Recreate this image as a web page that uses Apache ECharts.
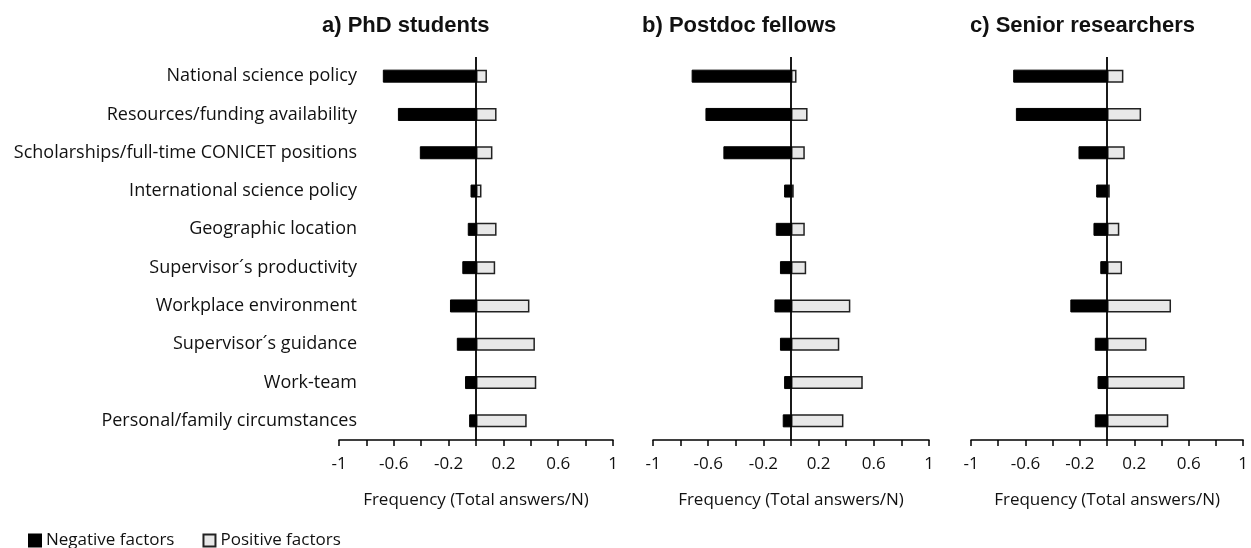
<!DOCTYPE html>
<html>
<head>
<meta charset="utf-8">
<script src="https://cdn.jsdelivr.net/npm/echarts@6/dist/echarts.min.js"></script>
<style>html,body{margin:0;padding:0;background:#fff}#c{width:1251px;height:548px}</style>
</head>
<body>
<div id="c"></div>
<script>
const categories = ['National science policy','Resources/funding availability','Scholarships/full-time CONICET positions','International science policy','Geographic location','Supervisor´s productivity','Workplace environment','Supervisor´s guidance','Work-team','Personal/family circumstances'];
const panelTitles = ['a) PhD students','b) Postdoc fellows','c) Senior researchers'];
const tickLabels = ['-1','-0.6','-0.2','0.2','0.6','1'];
const axisTitle = 'Frequency (Total answers/N)';
const negPhD = [-0.68, -0.57, -0.41, -0.04, -0.06, -0.10, -0.19, -0.14, -0.08, -0.05];
const posPhD = [0.08, 0.15, 0.12, 0.04, 0.15, 0.14, 0.39, 0.43, 0.44, 0.37];
const negPostdoc = [-0.72, -0.62, -0.49, -0.05, -0.11, -0.08, -0.12, -0.08, -0.05, -0.06];
const posPostdoc = [0.04, 0.12, 0.10, 0.02, 0.10, 0.11, 0.43, 0.35, 0.52, 0.38];
const negSenior = [-0.69, -0.67, -0.21, -0.08, -0.10, -0.05, -0.27, -0.09, -0.07, -0.09];
const posSenior = [0.12, 0.25, 0.13, 0.02, 0.09, 0.11, 0.47, 0.29, 0.57, 0.45];

const negAll = [negPhD, negPostdoc, negSenior];
const posAll = [posPhD, posPostdoc, posSenior];

const grids = [
  {left: 339, width: 274, top: 57, height: 383},
  {left: 653, width: 276, top: 57, height: 383},
  {left: 971, width: 275, top: 57, height: 383}
];
const titleLefts = [322, 642, 970];
const txt = '#111';
const labelFont = '"Open Sans", sans-serif';

const option = {
  animation: false,
  backgroundColor: '#fff',
  title: panelTitles.map((t, i) => ({
    text: t, left: titleLefts[i], top: 15, padding: 0,
    textStyle: {fontFamily: '"Liberation Sans", Arial, sans-serif', fontWeight: 'bold', fontSize: 22, color: txt}
  })),
  legend: {
    data: ['Negative factors', 'Positive factors'],
    left: 28, top: 532, icon: 'rect', itemWidth: 12, itemHeight: 12, itemGap: 28, padding: 0,
    textStyle: {fontFamily: labelFont, fontSize: 17, color: txt}
  },
  grid: grids,
  xAxis: grids.map((g, i) => ({
    type: 'value', gridIndex: i, min: -1, max: 1, interval: 0.2,
    axisLine: {show: true, onZero: false, lineStyle: {color: '#000', width: 1.5}},
    axisTick: {show: true, length: 6, lineStyle: {color: '#000', width: 1.5}},
    splitLine: {show: false},
    axisLabel: {
      margin: 16, color: txt, fontFamily: labelFont, fontSize: 17,
      formatter: v => { const s = String(Math.round(v * 10) / 10); return tickLabels.indexOf(s) >= 0 ? s : ''; }
    },
    name: axisTitle, nameLocation: 'middle', nameGap: 52,
    nameTextStyle: {fontFamily: labelFont, fontSize: 17, color: txt}
  })),
  yAxis: grids.map((g, i) => ({
    type: 'category', gridIndex: i, data: categories, inverse: true,
    axisLine: {show: false}, axisTick: {show: false},
    axisLabel: {show: i === 0, margin: -18, color: txt, fontFamily: labelFont, fontSize: 18}
  })),
  series: []
};

for (let i = 0; i < 3; i++) {
  option.series.push({
    name: 'Negative factors', type: 'bar', xAxisIndex: i, yAxisIndex: i,
    data: negAll[i], barWidth: 13, barGap: '-100%',
    itemStyle: {color: '#000', borderColor: '#000', borderWidth: 1}
  });
  option.series.push({
    name: 'Positive factors', type: 'bar', xAxisIndex: i, yAxisIndex: i,
    data: posAll[i], barWidth: 13, barGap: '-100%',
    itemStyle: {color: '#e8e8e8', borderColor: '#222', borderWidth: 1.5},
    markLine: {
      silent: true, symbol: 'none', label: {show: false},
      lineStyle: {color: '#000', width: 1.8, type: 'solid'},
      data: [{xAxis: 0}], z: 10
    }
  });
}

const chart = echarts.init(document.getElementById('c'), null, {renderer: 'canvas'});
chart.setOption(option);
</script>
</body>
</html>
